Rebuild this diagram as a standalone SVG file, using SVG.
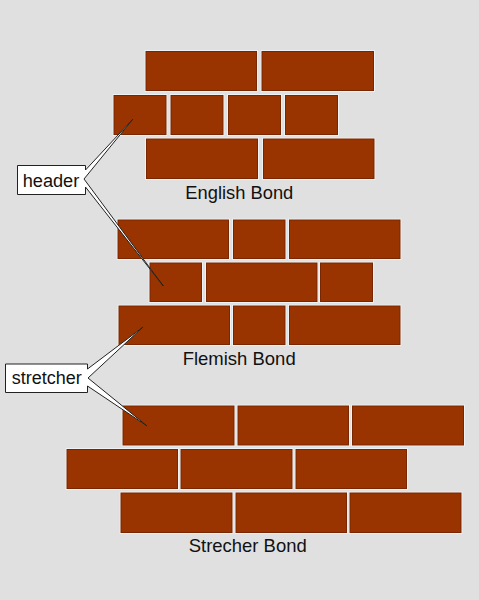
<svg xmlns="http://www.w3.org/2000/svg" width="479" height="600" viewBox="0 0 479 600">
<style>
.bg{fill:#e0e0e0}
.brick{fill:#993300;stroke:#7a2600;stroke-width:1}
.halo{fill:none;stroke:#f4f8fa;stroke-width:2.5}
.title{font-family:"Liberation Sans",Arial,sans-serif;font-size:19px;fill:#111}
.lbl{font-family:"Liberation Sans",Arial,sans-serif;font-size:18px;fill:#111}
.call{fill:#ffffff;stroke:#222;stroke-width:1;stroke-linejoin:miter}
</style>
<defs>
<g id="s"/>
</defs>
<rect class="bg" x="0" y="0" width="479" height="600"/>

<g id="english-bond">
<g class="halos">
<rect class="halo" x="146" y="51.5" width="110.5" height="39"/>
<rect class="halo" x="262" y="51.5" width="111.5" height="39"/>
<rect class="halo" x="114" y="95.5" width="52" height="39"/>
<rect class="halo" x="171" y="95.5" width="52" height="39"/>
<rect class="halo" x="228.5" y="95.5" width="52" height="39"/>
<rect class="halo" x="285.5" y="95.5" width="52" height="39"/>
<rect class="halo" x="146.5" y="139" width="111" height="39.5"/>
<rect class="halo" x="263.5" y="139" width="110.5" height="39.5"/>
</g>
<rect class="brick" x="146" y="51.5" width="110.5" height="39"/>
<rect class="brick" x="262" y="51.5" width="111.5" height="39"/>
<rect class="brick" x="114" y="95.5" width="52" height="39"/>
<rect class="brick" x="171" y="95.5" width="52" height="39"/>
<rect class="brick" x="228.5" y="95.5" width="52" height="39"/>
<rect class="brick" x="285.5" y="95.5" width="52" height="39"/>
<rect class="brick" x="146.5" y="139" width="111" height="39.5"/>
<rect class="brick" x="263.5" y="139" width="110.5" height="39.5"/>
<text class="title" x="185.3" y="199.3" textLength="108" lengthAdjust="spacingAndGlyphs">English Bond</text>
</g>

<g id="flemish-bond">
<rect class="halo" x="118" y="220" width="110.5" height="38.5"/>
<rect class="halo" x="233.5" y="220" width="51.5" height="38.5"/>
<rect class="halo" x="289.5" y="220" width="110.5" height="38.5"/>
<rect class="halo" x="150" y="263" width="51.5" height="38.5"/>
<rect class="halo" x="206.5" y="263" width="110.5" height="38.5"/>
<rect class="halo" x="320.5" y="263" width="52" height="38.5"/>
<rect class="halo" x="119" y="306" width="110.5" height="38.5"/>
<rect class="halo" x="233.5" y="306" width="51.5" height="38.5"/>
<rect class="halo" x="289.5" y="306" width="110.5" height="38.5"/>
<rect class="brick" x="118" y="220" width="110.5" height="38.5"/>
<rect class="brick" x="233.5" y="220" width="51.5" height="38.5"/>
<rect class="brick" x="289.5" y="220" width="110.5" height="38.5"/>
<rect class="brick" x="150" y="263" width="51.5" height="38.5"/>
<rect class="brick" x="206.5" y="263" width="110.5" height="38.5"/>
<rect class="brick" x="320.5" y="263" width="52" height="38.5"/>
<rect class="brick" x="119" y="306" width="110.5" height="38.5"/>
<rect class="brick" x="233.5" y="306" width="51.5" height="38.5"/>
<rect class="brick" x="289.5" y="306" width="110.5" height="38.5"/>
<text class="title" x="182.7" y="365.3" textLength="113" lengthAdjust="spacingAndGlyphs">Flemish Bond</text>
</g>

<g id="stretcher-bond">
<rect class="halo" x="123" y="406" width="111" height="39"/>
<rect class="halo" x="238" y="406" width="110.5" height="39"/>
<rect class="halo" x="352.5" y="406" width="111" height="39"/>
<rect class="halo" x="67" y="449.5" width="110.5" height="39"/>
<rect class="halo" x="181" y="449.5" width="111" height="39"/>
<rect class="halo" x="296" y="449.5" width="110.5" height="39"/>
<rect class="halo" x="121" y="493" width="111" height="39.5"/>
<rect class="halo" x="236" y="493" width="110.5" height="39.5"/>
<rect class="halo" x="350" y="493" width="111" height="39.5"/>
<rect class="brick" x="123" y="406" width="111" height="39"/>
<rect class="brick" x="238" y="406" width="110.5" height="39"/>
<rect class="brick" x="352.5" y="406" width="111" height="39"/>
<rect class="brick" x="67" y="449.5" width="110.5" height="39"/>
<rect class="brick" x="181" y="449.5" width="111" height="39"/>
<rect class="brick" x="296" y="449.5" width="110.5" height="39"/>
<rect class="brick" x="121" y="493" width="111" height="39.5"/>
<rect class="brick" x="236" y="493" width="110.5" height="39.5"/>
<rect class="brick" x="350" y="493" width="111" height="39.5"/>
<text class="title" x="188.7" y="551.7" textLength="118" lengthAdjust="spacingAndGlyphs">Strecher Bond</text>
</g>

<g id="connectors">
<path class="call" d="M17.5,165.5 H85.5 V170 L132.7,119.3 L84,179 L163.3,286 L85.5,187 V194.5 H17.5 Z"/>
<path class="call" d="M5.5,364 H87.5 V369 L142.7,327.3 L88,378 L146.7,425.7 L87.5,386 V392.5 H5.5 Z"/>
</g>

<g id="header-label">
<text class="lbl" x="22.7" y="187.3" textLength="56.6" lengthAdjust="spacingAndGlyphs">header</text>
</g>
<g id="stretcher-label">
<text class="lbl" x="11.7" y="384.3" textLength="70" lengthAdjust="spacingAndGlyphs">stretcher</text>
</g>
</svg>
